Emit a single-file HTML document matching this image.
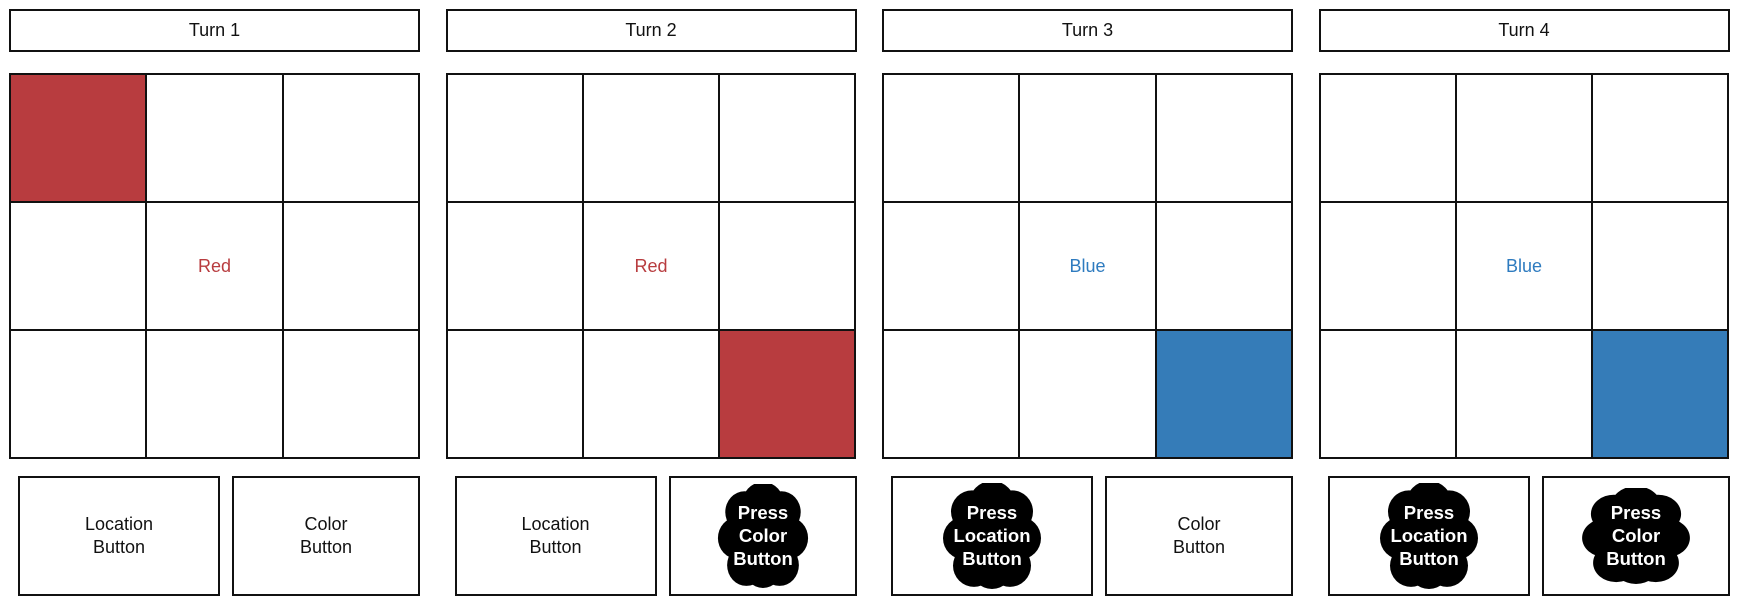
<!DOCTYPE html>
<html><head><meta charset="utf-8"><style>
body{margin:0;width:1740px;height:610px;background:#fff;position:relative;overflow:hidden;font-family:"Liberation Sans",sans-serif;}
.a{position:absolute;box-sizing:border-box;}
.box{border:2px solid #111;background:#fff;display:flex;align-items:center;justify-content:center;text-align:center;font-size:18px;color:#111;line-height:23px;}
.cell{border:2px solid #111;}
.cloud{position:absolute;}
</style></head><body>
<script>
const turns=["Turn 1","Turn 2","Turn 3","Turn 4"];
const fillCell=[0,8,8,8];
const fillColor=["#b83c3f","#b83c3f","#357cb8","#357cb8"];
const words=["Red","Red","Blue","Blue"];
const wordColor=["#b83c3f","#b83c3f","#2e7bbf","#2e7bbf"];
const locPressed=[false,false,true,true];
const colPressed=[false,true,false,true];
const root=document.body;
function mk(cls,x,y,w,h,parent){const d=document.createElement('div');d.className='a '+cls;d.style.left=x+'px';d.style.top=y+'px';d.style.width=w+'px';d.style.height=h+'px';(parent||root).appendChild(d);return d;}
function cloud(parent,w,h,lines,cw,ch){
  const ns='http://www.w3.org/2000/svg';
  const s=document.createElementNS(ns,'svg');
  s.setAttribute('width',cw);s.setAttribute('height',ch);
  s.setAttribute('class','cloud');
  s.style.left=((w-4-cw)/2)+'px';s.style.top=((h-4-ch)/2)+'px';
  
  
  const circ=[[0.5,0.2,0.22],[0.3,0.27,0.2],[0.7,0.27,0.2],[0.22,0.52,0.2],[0.78,0.52,0.2],[0.32,0.78,0.2],[0.68,0.78,0.2],[0.5,0.8,0.2],[0.5,0.5,0.34]];
  circ.forEach(c=>{const e=document.createElementNS(ns,'ellipse');e.setAttribute('cx',c[0]*cw);e.setAttribute('cy',c[1]*ch);e.setAttribute('rx',c[2]*cw*1.05);e.setAttribute('ry',c[2]*ch);e.setAttribute('fill','#000');s.appendChild(e);});
  lines.forEach((t,i)=>{const e=document.createElementNS(ns,'text');e.setAttribute('x',cw/2);e.setAttribute('y',ch/2+(i-1)*23+6);e.setAttribute('text-anchor','middle');e.setAttribute('fill','#fff');e.setAttribute('font-weight','bold');e.setAttribute('font-size','18.5');e.setAttribute('font-family','Liberation Sans, sans-serif');e.textContent=t;s.appendChild(e);});
  parent.appendChild(s);
}
turns.forEach((t,p)=>{
  const x0=9+p*436.5;
  const title=mk('box',x0,9,411,43);title.textContent=t;
  
  
  const grid=mk('',x0,73,411,386);
  
  
  const cw=409/3,ch=384/3;
  for(let i=0;i<9;i++){
    const r=Math.floor(i/3),c=i%3;
    const cell=mk('cell',c*cw,r*ch,cw+2,ch+2,grid);
    
    
    if(i===fillCell[p]) cell.style.background=fillColor[p];
    if(i===4){cell.style.display='flex';cell.style.alignItems='center';cell.style.justifyContent='center';cell.style.fontSize='18px';cell.style.color=wordColor[p];cell.textContent=words[p];}
  }
  const lb=mk('box',x0+9,476,202,120);
  
  
  if(locPressed[p]){lb.style.display='block';cloud(lb,202,120,['Press','Location','Button'],100,106);} else lb.innerHTML='Location<br>Button';
  const cb=mk('box',x0+223,476,188,120);
  
  
  if(colPressed[p]){cb.style.display='block';cloud(cb,188,120,['Press','Color','Button'],p===3?110:92,p===3?96:104);} else cb.innerHTML='Color<br>Button';
});
</script>
</body></html>
